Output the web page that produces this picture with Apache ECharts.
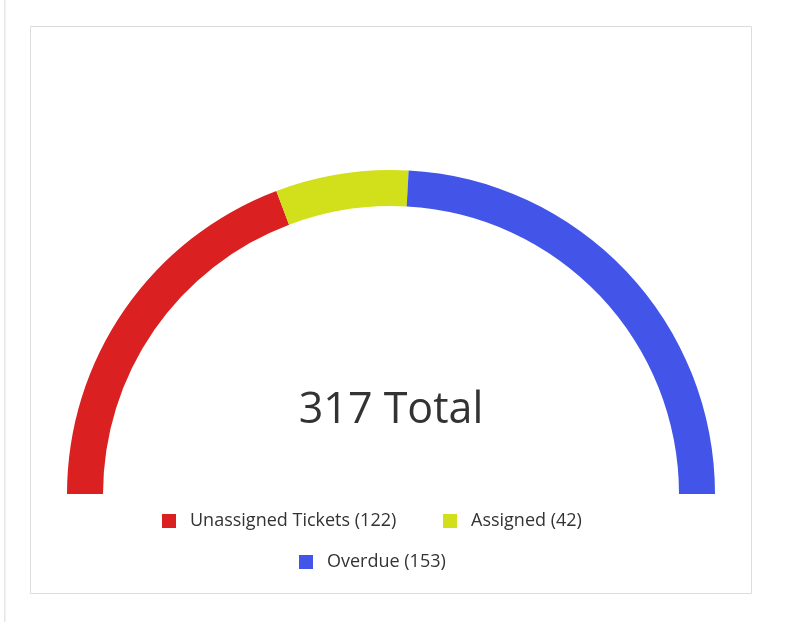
<!DOCTYPE html>
<html>
<head>
<meta charset="utf-8">
<script src="https://cdn.jsdelivr.net/npm/echarts@6/dist/echarts.min.js"></script>
<style>
html,body{margin:0;padding:0;background:#fff;}
#chart{width:793px;height:622px;}
</style>
</head>
<body>
<div id="chart"></div>
<script>
const categories = ['Unassigned Tickets', 'Assigned', 'Overdue'];
const values = [122, 42, 153];
const colors = ['#DA2020', '#D1E01A', '#4255E8'];
const totalLabel = 'Total';

const total = values.reduce((a, b) => a + b, 0);
const seriesData = categories.map((c, i) => ({ name: c, value: values[i], itemStyle: { color: colors[i] } }));
const labelMap = {};
categories.forEach((c, i) => { labelMap[c] = c + ' (' + values[i] + ')'; });

const chart = echarts.init(document.getElementById('chart'), null, { renderer: 'canvas' });
const fontFamily = '"Open Sans", "Noto Sans", sans-serif';
const legendCommon = {
  orient: 'horizontal',
  icon: 'rect',
  itemWidth: 14,
  itemHeight: 14,
  itemGap: 45,
  padding: 0,
  selectedMode: false,
  textStyle: { fontFamily: fontFamily, fontSize: 18, color: '#333', padding: [0, 0, 0, 9] },
  formatter: name => labelMap[name]
};
const legendPos = [[162, 512], [443, 512], [299, 553]];
chart.setOption({
  animation: false,
  graphic: [
    { type: 'rect', shape: { x: 30.5, y: 26.5, width: 721, height: 567 }, style: { fill: 'none', stroke: '#dcdcdc', lineWidth: 1 }, silent: true },
    { type: 'rect', shape: { x: 4, y: 0, width: 1.5, height: 622 }, style: { fill: '#e6e6e6' }, silent: true },
    { type: 'text', x: 391, y: 411, style: { text: total + ' ' + totalLabel, fontFamily: fontFamily, fontSize: 43, fill: '#333', textAlign: 'center', textVerticalAlign: 'middle' }, silent: true }
  ],
  legend: categories.map((c, i) => Object.assign({}, legendCommon, { data: [c], left: legendPos[i][0], top: legendPos[i][1] })),
  series: [{
    type: 'pie',
    center: [391, 494],
    radius: [288, 324],
    startAngle: 180,
    endAngle: 0,
    clockwise: true,
    silent: true,
    label: { show: false },
    labelLine: { show: false },
    itemStyle: { borderWidth: 0 },
    data: seriesData
  }]
});
</script>
</body>
</html>
